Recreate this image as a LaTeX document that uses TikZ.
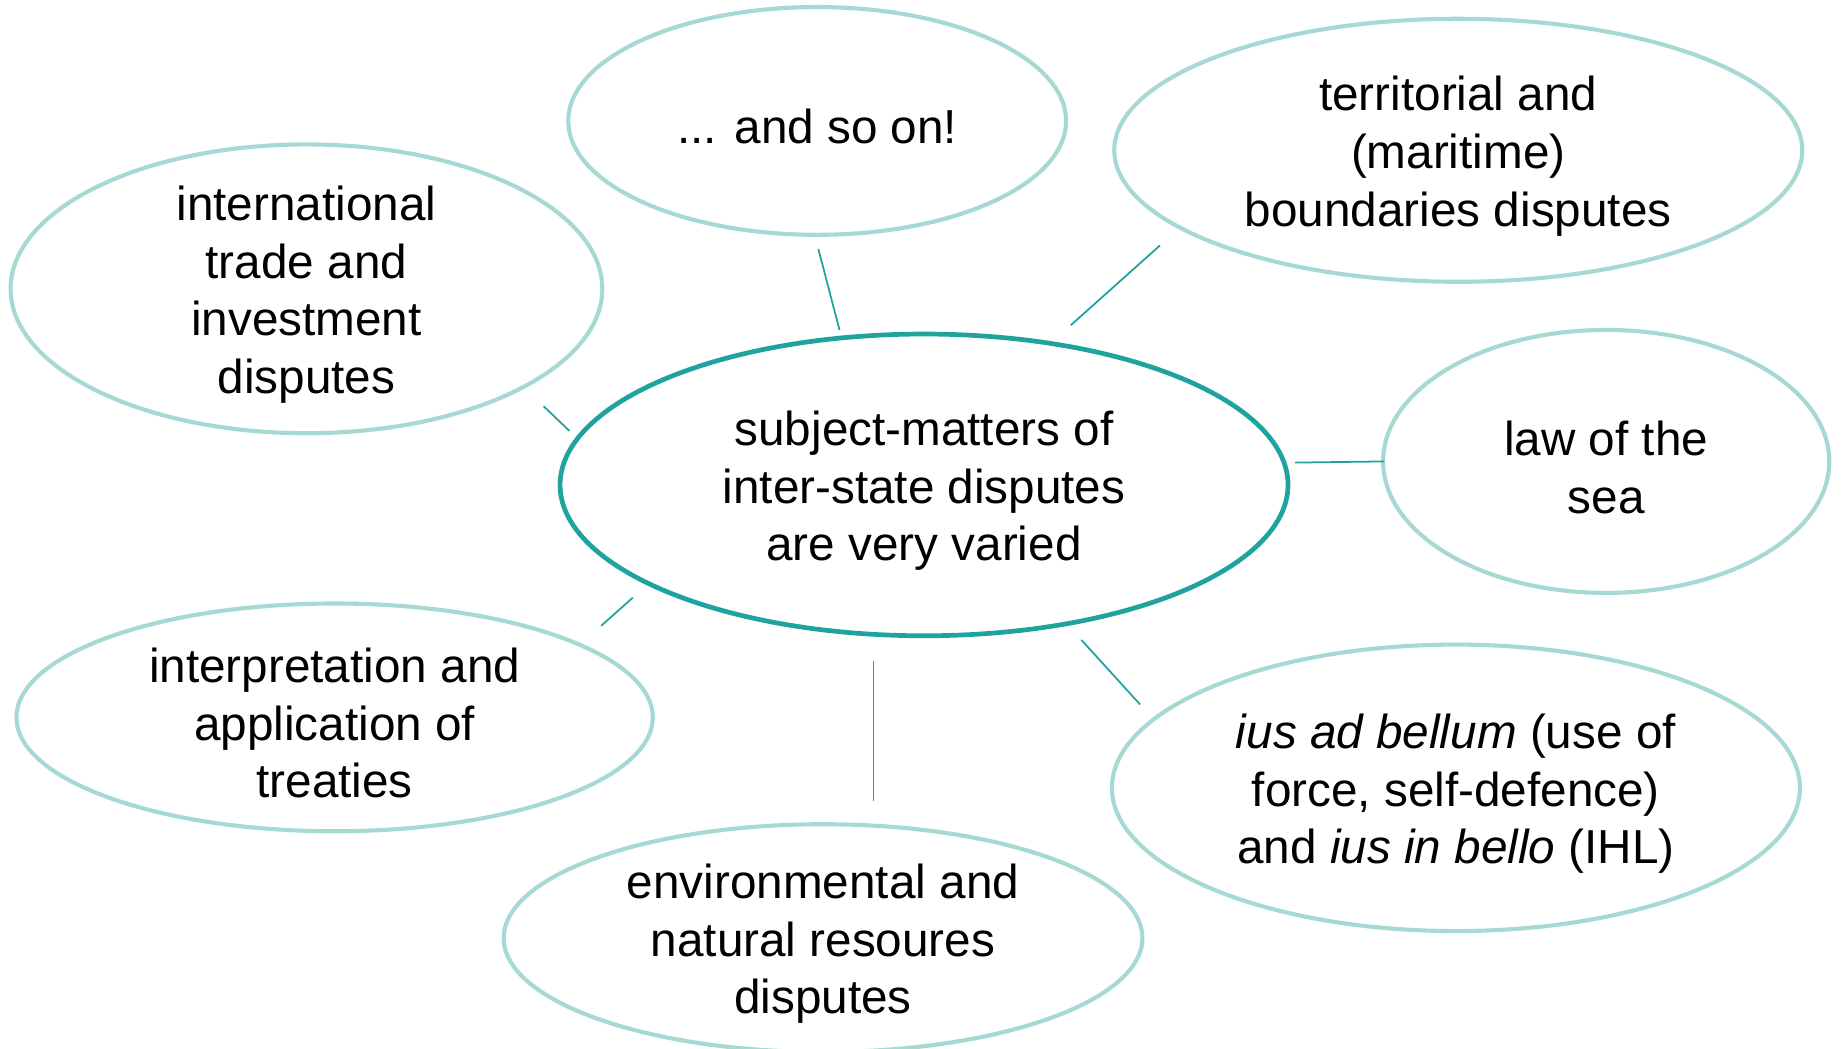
\documentclass[tikz,border=0pt]{standalone}
\usepackage{fontspec}
\setmainfont{Liberation Sans}
\usetikzlibrary{shapes.geometric}
\definecolor{hubcol}{HTML}{1FA39F}
\definecolor{leafcol}{HTML}{A6D9D4}
\begin{document}
\begin{tikzpicture}[x=1pt,y=-1pt,
 hub/.style={ellipse, draw=hubcol, line width=4pt, inner sep=0pt},
 leaf/.style={ellipse, draw=leafcol, line width=3.5pt, inner sep=0pt},
 lbl/.style={align=center, font=\fontsize{40.6}{49}\selectfont, inner sep=0pt, yshift=-5pt},
 conn/.style={draw=hubcol, line width=1.5pt}]
\useasboundingbox (0,0) rectangle (1568,893);
\fill[white] (0,0) rectangle (1568,893);
% ellipses
\node[hub, minimum width=620pt, minimum height=257pt] (c) at (787,413) {};
\node[leaf, minimum width=424pt, minimum height=194pt] (so) at (696,103) {};
\node[leaf, minimum width=586pt, minimum height=224pt] (ter) at (1242,128) {};
\node[leaf, minimum width=504pt, minimum height=246pt] (intl) at (261,246) {};
\node[leaf, minimum width=380pt, minimum height=224pt] (sea) at (1368,393) {};
\node[leaf, minimum width=542pt, minimum height=194pt] (intp) at (285,611) {};
\node[leaf, minimum width=586pt, minimum height=244pt] (ius) at (1240,671) {};
\node[leaf, minimum width=544pt, minimum height=194pt] (env) at (701,799) {};
% texts
\node[lbl] (cT) at (c) {subject-matters of\\inter-state disputes\\are very varied};
\node[lbl] (soT) at (so) {... and so on!};
\node[lbl] (terT) at (ter) {territorial and\\(maritime)\\boundaries disputes};
\node[lbl] (intlT) at (intl) {international\\trade and\\investment\\disputes};
\node[lbl] (seaT) at (sea) {law of the\\sea};
\node[lbl] (intpT) at (intp) {interpretation and\\application of\\treaties};
\node[lbl] (iusT) at (ius) {\textit{ius ad bellum} (use of\\force, self-defence)\\and \textit{ius in bello} (IHL)};
\node[lbl] (envT) at (env) {environmental and\\natural resoures\\disputes};
% connector end points
\coordinate (so1) at (715,281); \coordinate (so2) at (697,212);
\coordinate (ter1) at (912,277); \coordinate (ter2) at (988,209);
\coordinate (intl1) at (485,367); \coordinate (intl2) at (463,346);
\coordinate (sea1) at (1103,394); \coordinate (sea2) at (1179,393);
\coordinate (intp1) at (539,509); \coordinate (intp2) at (512,533);
\coordinate (env1) at (744,563); \coordinate (env2) at (744,682);
\coordinate (ius1) at (921,545); \coordinate (ius2) at (971,600);
\draw[conn] (so1) -- (so2);
\draw[conn] (ter1) -- (ter2);
\draw[conn] (intl1) -- (intl2);
\draw[conn] (sea1) -- (sea2);
\draw[conn] (intp1) -- (intp2);
\draw[conn] (env1) -- (env2);
\draw[conn] (ius1) -- (ius2);
\end{tikzpicture}
\end{document}
